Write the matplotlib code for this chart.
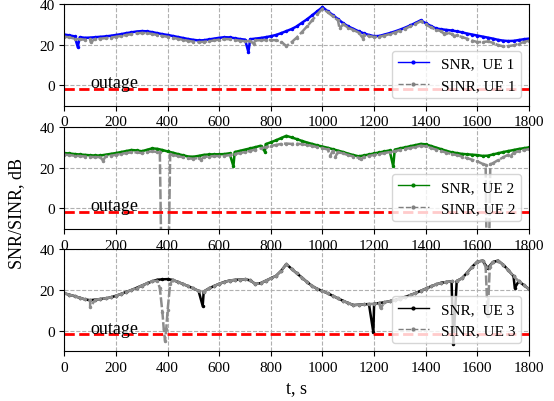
import numpy as np
import matplotlib
matplotlib.use("Agg")
from matplotlib import pyplot as plt
from matplotlib.lines import Line2D

plt.rcParams['font.family'] = 'serif'
plt.rcParams['font.serif'] = ['Liberation Serif', 'DejaVu Serif']
plt.rcParams['font.size'] = 11

# time grid, s (every 20 s)
t_grid = np.arange(0, 1801, 20)

# ---- UE 1 ----
snr1 = [25.0, 24.6, 24.1, 23.7, 23.4, 23.5, 23.7, 23.9, 24.1, 24.4,
        24.8, 25.2, 25.7, 26.1, 26.5, 26.7, 26.6, 26.2, 25.7, 25.2,
        24.8, 24.3, 23.8, 23.3, 22.8, 22.4, 22.1, 22.2, 22.6, 23.0,
        23.4, 23.7, 23.6, 23.2, 22.8, 22.5, 22.7, 23.0, 23.3, 23.7,
        24.2, 24.8, 25.7, 26.7, 27.7, 29.0, 30.8, 32.5, 34.5, 36.5,
        38.5, 36.5, 34.6, 32.6, 30.6, 29.0, 27.8, 26.6, 25.6, 24.8,
        24.2, 24.3, 25.0, 25.7, 26.5, 27.4, 28.4, 29.5, 30.7, 32.0,
        30.6, 29.2, 28.0, 27.6, 27.3, 27.0, 26.6, 26.1, 25.5, 25.0,
        24.5, 24.0, 23.5, 23.0, 22.4, 22.0, 21.8, 21.9, 22.3, 22.7,
        23.0]
sinr1 = [24.0, 23.6, 23.0, 22.6, 22.5, 22.6, 22.8, 23.0, 23.2, 23.5,
         23.9, 24.3, 24.8, 25.2, 25.6, 25.8, 25.7, 25.3, 24.8, 24.3,
         23.9, 23.4, 22.9, 22.4, 21.9, 21.5, 21.3, 21.4, 21.7, 22.1,
         22.5, 22.8, 22.7, 22.3, 22.0, 21.7, 21.9, 22.1, 22.2, 22.3,
         22.3, 22.2, 21.5, 19.3, 21.2, 23.5, 26.2, 29.0, 32.0, 35.0,
         37.8, 36.0, 34.0, 32.0, 30.0, 28.4, 27.2, 26.0, 25.0, 24.3,
         23.8, 23.9, 24.5, 25.2, 26.0, 26.9, 27.9, 29.0, 30.2, 31.5,
         30.0, 28.5, 27.4, 26.6, 26.0, 25.3, 24.6, 23.8, 23.0, 22.0,
         21.3, 21.3, 21.6, 21.0, 19.8, 19.2, 19.3, 19.7, 20.5, 21.3,
         22.0]
snr1_spk_t = [52, 713]
snr1_spk_v = [18.9, 16.4]
sinr1_spk_t = [102, 733, 1066, 1158, 1470, 1510]
sinr1_spk_v = [21.3, 20.5, 28.0, 23.0, 25.5, 24.3]

# ---- UE 2 ----
snr2 = [27.3, 27.1, 26.8, 26.6, 26.4, 26.2, 26.1, 26.1, 26.5, 26.9,
        27.3, 27.8, 28.3, 28.8, 28.6, 28.2, 28.9, 29.6, 29.4, 28.8,
        28.1, 27.5, 26.8, 26.2, 25.6, 25.5, 25.9, 26.4, 26.6, 26.7,
        26.7, 26.8, 27.2, 27.8, 28.4, 29.0, 29.6, 30.2, 30.9, 31.7,
        32.6, 33.6, 34.7, 35.8, 35.0, 34.2, 33.3, 32.5, 31.8, 31.1,
        30.5, 29.9, 29.2, 28.5, 27.8, 27.0, 26.3, 25.7, 26.1, 26.6,
        27.1, 27.6, 28.1, 28.6, 29.0, 29.6, 30.1, 30.7, 31.2, 31.8,
        31.6, 30.8, 30.0, 29.2, 28.4, 27.7, 27.3, 26.9, 26.7, 26.5,
        26.3, 25.9, 26.0, 26.6, 27.2, 27.8, 28.3, 28.8, 29.3, 29.7,
        30.1]
sinr2 = [26.5, 26.3, 26.0, 25.8, 25.6, 25.4, 25.3, 25.3, 25.7, 26.0,
         26.4, 26.9, 27.3, 27.7, 27.6, 27.3, 27.7, 28.2, 27.8, -25.0,
         -25.0, 26.4, 25.8, 25.2, 24.7, 24.5, 24.9, 25.4, 25.6, 25.8,
         25.8, 25.9, 26.3, 26.8, 27.3, 27.8, 28.4, 29.0, 29.6, 30.2,
         30.8, 31.3, 31.8, 32.0, 31.8, 31.9, 31.7, 31.3, 30.8, 30.2,
         29.7, 29.1, 28.4, 27.8, 27.1, 26.3, 25.6, 25.0, 25.4, 25.9,
         26.4, 26.9, 27.3, 27.8, 28.2, 28.8, 29.3, 29.8, 30.3, 30.9,
         30.6, 29.8, 29.0, 28.3, 27.5, 26.8, 26.3, 25.6, 24.8, 24.0,
         23.2, 22.0, -25.0, 22.3, 23.8, 25.2, 26.5, 27.4, 28.2, 28.8,
         29.2]
snr2_spk_t = [655, 777, 1274]
snr2_spk_v = [20.8, 28.0, 20.8]
sinr2_spk_t = [150, 370, 376, 404, 410, 530, 1030, 1050, 1150, 1632, 1636, 1645, 1650, 1730]
sinr2_spk_v = [23.5, 27.6, -25.0, -25.0, 26.8, 24.0, 26.0, 25.5, 24.2, 21.5, -25.0, -25.0, 21.8, 26.0]

# ---- UE 3 ----
snr3 = [18.4, 17.7, 17.0, 16.2, 15.4, 15.0, 15.3, 15.6, 15.9, 16.4,
        17.2, 18.1, 19.1, 20.0, 21.1, 22.2, 23.3, 24.3, 25.1, 25.3,
        25.4, 25.0, 24.0, 23.0, 21.9, 20.8, 19.6, 19.3, 20.8, 22.0,
        23.1, 24.0, 24.7, 25.0, 25.2, 25.3, 24.8, 23.0, 23.4, 24.6,
        25.8, 27.0, 29.5, 32.8, 30.5, 28.3, 26.2, 24.0, 22.0, 20.6,
        19.5, 18.4, 17.2, 15.9, 14.7, 13.6, 12.6, 12.8, 13.0, 13.1,
        13.3, 13.6, 14.0, 14.5, 15.1, 15.8, 16.6, 17.5, 18.5, 19.6,
        20.7, 21.8, 22.8, 23.6, 24.0, 24.3, 24.5, 25.8, 28.5, 31.5,
        34.0, 34.5, 30.8, 33.8, 34.5, 32.5, 29.8, 26.8, 24.4, 22.4,
        20.5]
sinr3 = [18.4, 17.7, 17.0, 16.2, 15.4, 15.0, 15.3, 15.6, 15.9, 16.4,
         17.2, 18.1, 19.1, 20.0, 21.1, 22.2, 23.3, 24.3, 24.6, 9.0,
         10.0, 25.0, 24.0, 23.0, 21.9, 20.8, 19.6, 19.3, 20.8, 22.0,
         23.1, 24.0, 24.7, 25.0, 25.2, 25.3, 24.8, 23.0, 23.4, 24.6,
         25.8, 27.0, 29.5, 32.8, 30.5, 28.3, 26.2, 24.0, 22.0, 20.6,
         19.5, 18.4, 17.2, 15.9, 14.7, 13.6, 12.6, 12.8, 13.0, 13.1,
         13.3, 13.6, 14.0, 14.5, 15.1, 15.8, 16.6, 17.5, 18.5, 19.6,
         20.7, 21.8, 22.8, 23.6, 24.0, 24.3, 24.5, 25.8, 28.5, 31.5,
         34.0, 34.5, 7.0, 33.8, 34.5, 32.5, 29.8, 26.8, 24.4, 22.4,
         20.5]
snr3_spk_t = [536, 1197, 1507, 1745]
snr3_spk_v = [12.2, -0.8, -6.5, 21.0]
sinr3_spk_t = [100, 370, 385, 390, 395, 410, 1225, 1632, 1648]
sinr3_spk_v = [11.6, 21.0, 1.0, -4.9, 1.0, 23.0, 11.0, 31.5, 31.5]

outage = -1.6


def merge(base, spk_t, spk_v):
    t = np.concatenate([t_grid, spk_t])
    v = np.concatenate([base, spk_v])
    idx = np.argsort(t, kind='stable')
    return t[idx], v[idx]


panels = [
    (snr1, snr1_spk_t, snr1_spk_v, sinr1, sinr1_spk_t, sinr1_spk_v, 'blue', 1),
    (snr2, snr2_spk_t, snr2_spk_v, sinr2, sinr2_spk_t, sinr2_spk_v, 'green', 2),
    (snr3, snr3_spk_t, snr3_spk_v, sinr3, sinr3_spk_t, sinr3_spk_v, 'black', 3),
]

fig = plt.figure(figsize=(5.54, 4.02), dpi=100)
bottoms = [0.7348, 0.4284, 0.1244]
axes = []
for (snr, st, sv, sinr, it, iv, col, ue), b in zip(panels, bottoms):
    ax = fig.add_axes([0.1161, b, 0.8388, 0.2525])
    ts, vs = merge(snr, st, sv)
    ti, vi = merge(sinr, it, iv)
    ax.plot(ts, vs, '-', color=col, lw=1.8, marker='.', ms=3)
    ax.plot(ti, vi, color='#8c8c8c', ls=(0, (4, 1)), lw=1.8, marker='.', ms=3)
    ax.axhline(outage, color='red', ls='--', lw=2)
    ax.text(100, -0.9, 'outage', fontsize=13)
    ax.set_xlim(0, 1800)
    ax.set_ylim(-10, 40)
    ax.set_xticks(range(0, 1801, 200))
    ax.set_yticks([0, 20, 40])
    ax.grid(True, ls='--', color='#b0b0b0', lw=0.8)
    # thin legend handles, as in the original
    h = [Line2D([], [], color=col, lw=1, marker='.', ms=4),
         Line2D([], [], color='grey', lw=1, ls='--', marker='.', ms=4)]
    ax.legend(h, ['SNR,  UE %d' % ue, 'SINR, UE %d' % ue], loc='lower right')
    axes.append(ax)

axes[2].set_xlabel('t, s', fontsize=13)
fig.text(0.03, 0.47, 'SNR/SINR, dB', rotation=90, va='center', ha='center', fontsize=13)

plt.savefig('out.png', dpi=100)
